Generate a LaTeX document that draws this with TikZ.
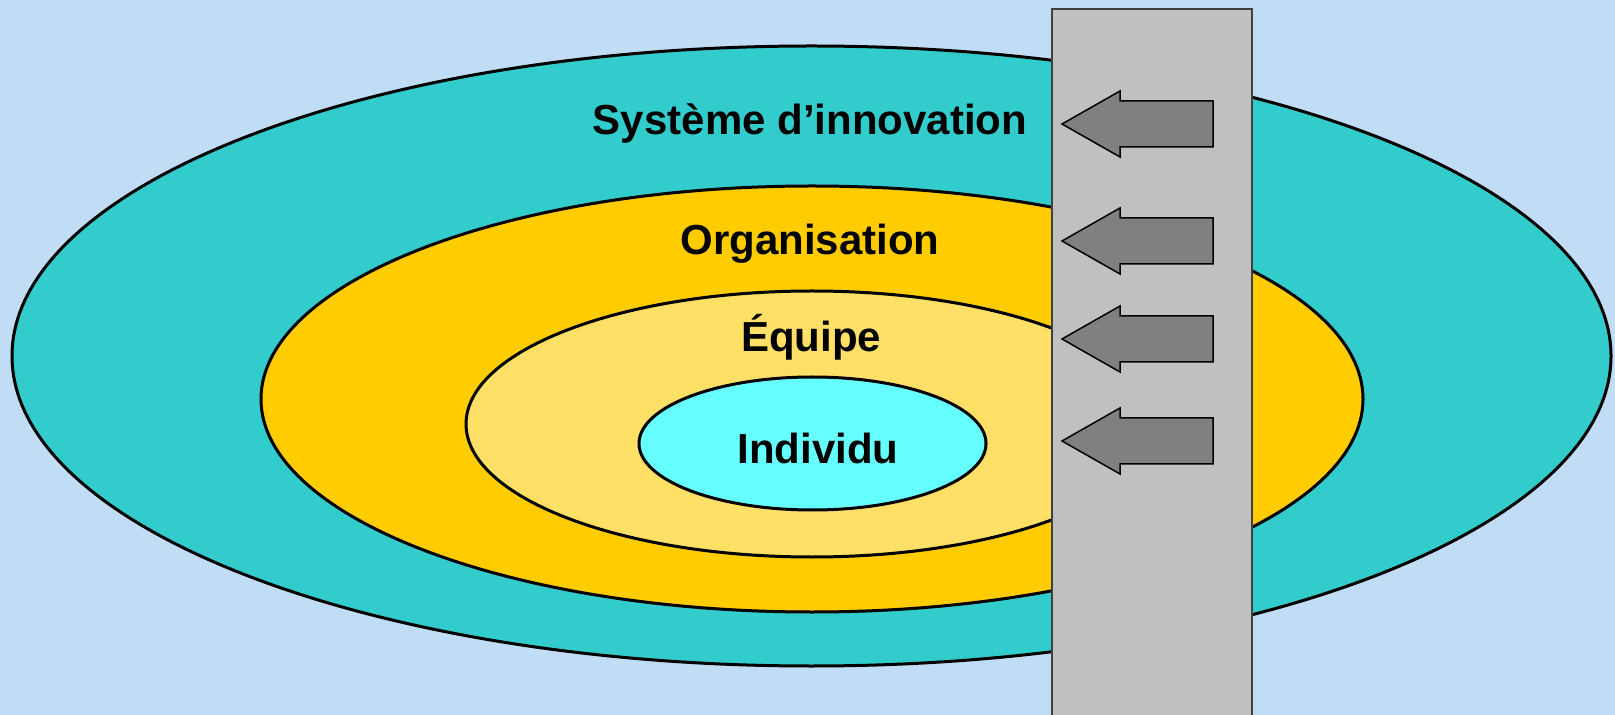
\documentclass[tikz,border=0pt]{standalone}
\usepackage{fontspec}
\setmainfont{Liberation Sans}
\definecolor{skyback}{RGB}{193,220,245}
\definecolor{sysfill}{RGB}{51,204,204}
\definecolor{orgfill}{RGB}{255,204,0}
\definecolor{teamfill}{RGB}{255,224,102}
\definecolor{indfill}{RGB}{102,255,255}
\definecolor{barfill}{RGB}{192,192,192}
\definecolor{pushfill}{RGB}{128,128,128}

\begin{document}
\begin{tikzpicture}[x=0.5pt, y=-0.5pt,
    ring/.style={draw=black, line width=1.5pt},
    lvl/.style={font=\bfseries\fontsize{21}{25}\selectfont, anchor=base, inner sep=0},
    push/.style={draw=black, fill=pushfill, line width=0.75pt, line join=miter}]
  \fill[skyback] (0,0) rectangle (1615,715);
  \useasboundingbox (0,0) rectangle (1615,715);
  \draw[ring, fill=sysfill]  (811.5,356) ellipse [x radius=799.5, y radius=310];
  \draw[ring, fill=orgfill]  (812,399)   ellipse [x radius=551, y radius=213];
  \draw[ring, fill=teamfill] (812,424)   ellipse [x radius=346, y radius=133];
  \draw[ring, fill=indfill]  (812.5,443.5) ellipse [x radius=173.5, y radius=66.5];
  \node[lvl] (sys)  at (810,135) {Système d’innovation};
  \node[lvl] (org)  at (810,255) {Organisation};
  \node[lvl] (team) at (811,352) {Équipe};
  \node[lvl] (ind)  at (818,464) {Individu};
  \draw[draw=black!75, fill=barfill, line width=0.75pt] (1052,9) rectangle (1252,740);
  \foreach \y in {124,241,339,441}
    \draw[push] (1062,\y) -- (1120,\y-33) -- (1120,\y-23) -- (1213,\y-23)
      -- (1213,\y+23) -- (1120,\y+23) -- (1120,\y+33) -- cycle;
\end{tikzpicture}
\end{document}
